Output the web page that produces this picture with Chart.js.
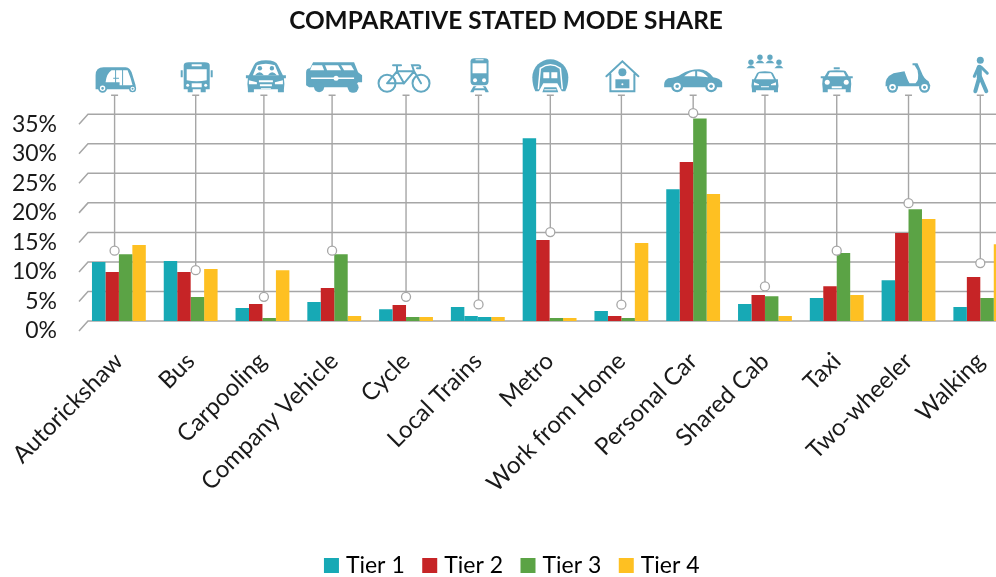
<!DOCTYPE html>
<html>
<head>
<meta charset="utf-8">
<title>Comparative stated mode share</title>
<script src="https://cdn.jsdelivr.net/npm/chart.js@4/dist/chart.umd.min.js"></script>
<style>
  html, body { margin: 0; padding: 0; background: #fff; overflow: hidden; }
  #wrap { width: 996px; height: 577px; overflow: hidden; }
  canvas { display: block; }
</style>
</head>
<body>
<div id="wrap"><canvas id="grafico" width="1022" height="577"></canvas></div>
<script>
// Values (percent)
const modes = ['Autorickshaw', 'Bus', 'Carpooling', 'Company Vehicle', 'Cycle', 'Local Trains', 'Metro',
  'Work from Home', 'Personal Car', 'Shared Cab', 'Taxi', 'Two-wheeler', 'Walking'];
const tierNames = ['Tier 1', 'Tier 2', 'Tier 3', 'Tier 4'];
const tier1 = [10.0, 10.15, 2.2, 3.2, 2.0, 2.37, 30.95, 1.7, 22.3, 2.87, 3.9, 6.9, 2.37];
const tier2 = [8.3, 8.3, 2.87, 5.6, 2.7, 0.85, 13.7, 0.85, 26.9, 4.4, 5.9, 14.9, 7.44];
const tier3 = [11.3, 4.06, 0.5, 11.3, 0.68, 0.68, 0.5, 0.5, 34.3, 4.2, 11.5, 18.9, 3.9];
const tier4 = [12.85, 8.8, 8.6, 0.85, 0.68, 0.68, 0.5, 13.2, 21.5, 0.85, 4.4, 17.25, 13.0];
const overall = [11.9, 8.6, 4.1, 11.9, 4.1, 2.8, 15.05, 2.76, 35.2, 5.86, 11.9, 19.95, 9.8];
// where the overall marker sits along the category axis (0 = first category)
const overallSlot = [-0.06, 1.07, 2.02, 2.97, 4, 5.01, 6.01, 7, 8, 9, 10, 11, 12];
const yTicks = [0, 5, 10, 15, 20, 25, 30, 35];

const colores = ['#17a9b5', '#c62426', '#5ba345', '#fec022'];
const gris = '#a6a6a6';
const azulIcono = '#62a8c2';
const LOCAL_TRAINS = modes.indexOf('Local Trains');

// circle as svg path text
const circ = (x, y, r) => `M${x - r} ${y}a${r} ${r} 0 1 0 ${2 * r} 0a${r} ${r} 0 1 0 ${-2 * r} 0Z`;
const rueda = (x, y, r) => [['f', circ(x, y, r)], ['w', circ(x, y, r * 0.6)], ['f', circ(x, y, r * 0.3)]];
const persona = (x, y) => [['f', circ(x, y - 3, 2.7)], ['f', `M${x - 4.5} ${y + 3}Q${x} ${y - 3} ${x + 4.5} ${y + 3}Z`]];

// Icons: origin is bottom centre, y goes up as negative
const iconos = [
  { dx: 1, art: [
    ['f', 'M-20-4V-17Q-20-25-12-25H10Q15-25 17-17L20-7V-3H-20Z'],
    ['w', 'M-10-10Q-9-19-4-22H12Q15-15 17-7H4V-10Z'],
    ['s', 'M0-22V-8M7-22V-7M-2-14H3'],
    ...rueda(-13, -4, 4.5), ...rueda(17, -3.5, 3.5)] },
  { dx: 1, art: [
    ['f', 'M-13-27Q-13-30-8-30H8Q13-30 13-27V-3H9V0H4V-3H-4V0H-9V-3H-13Z'],
    ['f', 'M-16-22H-14V-15H-16ZM14-22H16V-15H14Z'],
    ['w', 'M-10-23H10V-12Q0-10-10-12Z'], ['w', 'M-5-28H5V-26H-5Z'], ['w', 'M-5-9H5V-5H-5Z'],
    ['w', circ(-9, -7, 1.5)], ['w', circ(9, -7, 1.5)]] },
  { dx: 2, art: [
    ['f', 'M-17-17L-12-27Q-10-32 0-32Q10-32 12-27L17-17H20V-14H18Q19-8 18-3V0H12V-3H-12V0H-18V-3Q-19-8-18-14H-20V-17Z'],
    ['w', 'M-13-17L-9-27Q0-30 9-27L13-17Z'],
    ['f', circ(-6, -24, 2.2)], ['f', circ(6, -24, 2.2)],
    ['f', 'M-11-17Q-6-23-2-17ZM2-17Q6-23 11-17Z'],
    ['w', 'M-17-12L-9-10V-8H-17ZM17-12L9-10V-8H17Z'],
    ['w', 'M-7-12H7V-10H-7ZM-6-8H6V-6H-6ZM-5-4H5V-3H-5Z']] },
  { dx: 2, art: [
    ['f', 'M-28-7V-20Q-28-24-24-24L-21-30H20L24-20L28-17V-10H24L20-5H-25Z'],
    ['f', circ(-15, -5, 5)], ['f', circ(19, -5, 5.5)],
    ['w', 'M-22-27H-12L-10-22H-24ZM-9-27H4L7-22H-7ZM7-27H17L20-22H10Z'],
    ['ws', 'M-23-14H20'], ['w', circ(2, -14, 2.5)]] },
  { dx: -2, art: [
    ['s2', circ(-17, -9, 8.5)], ['s2', circ(17, -9, 8.5)],
    ['s2', 'M-17-9L-7-21H10M-7-21L0-9L10-21L17-9M-17-9H0M-11-27H-3M-7-27V-21M10-21L8-27H14Q17-27 16-24H13']] },
  { dx: 1, art: [
    ['f', 'M-9-31Q-9-34-5-34H5Q9-34 9-31V-11Q9-7 5-7H-5Q-9-7-9-11Z'],
    ['w', 'M-7-29H7V-19H-7Z'], ['w', 'M-4-33H4V-32H-4Z'],
    ['w', circ(-4.5, -12, 2)], ['w', circ(4.5, -12, 2)],
    ['f', 'M-6-6H-3L-5-4H5L3-6H6L9-1V0H6L5-2H-5L-6 0H-9V-1Z']] },
  { dx: 0, art: [
    ['f', 'M-15-1Q-18-7-18-15A18 18 0 0 1 18-15Q18-7 15-1Z'],
    ['ws', 'M-12-3L-10-24Q0-31 10-24L12-3'],
    ['w', 'M-7-20H-1V-14H-7ZM1-20H7V-14H1Z'],
    ['w', 'M-12 0L-7-9H7L12 0Z'],
    ['f', 'M-8 0L-6-5H6L8 0Z'], ['w', 'M-6-3H6V-2H-6Z']] },
  { dx: 1, art: [
    ['s2', 'M-16-16L0-31L16-16M-12-18V-1H12V-18'],
    ['f', circ(0, -20, 4)], ['f', 'M-7-13H7V-4H-7Z'], ['w', circ(0, -8, 1)]] },
  { dx: 0, art: [
    ['f', 'M-29-8Q-29-12-25-14Q-16-15-12-18Q-4-23 6-23Q14-23 20-15Q27-14 29-10V-5H-29Z'],
    ['w', 'M-9-16Q-3-21 2-21V-16ZM4-21Q10-21 15-15L4-16Z'],
    ...rueda(-16, -6, 6), ...rueda(18, -6, 6)] },
  { dx: 0, art: [
    ['f', 'M-11-13L-8-19Q-7-21 0-21Q7-21 8-19L11-13H13V-11Q14-6 13-3V0H9V-2H-9V0H-13V-3Q-14-6-13-11V-13Z'],
    ['w', 'M-9-13L-6-19H6L9-13Z'], ['w', 'M-11-10L-6-8V-7H-11ZM11-10L6-8V-7H11ZM-4-6H4V-5H-4Z'],
    ...persona(-14, -27), ...persona(-5, -32), ...persona(5, -32), ...persona(14, -27)] },
  { dx: 0, art: [
    ['f', 'M-12-16L-9-21Q-8-22 0-22Q8-22 9-21L12-16H16V-14H14Q15-8 14-3V0H9V-3H-9V0H-14V-3Q-15-8-14-14H-16V-16Z'],
    ['f', 'M-3-25H3V-23H-3Z'],
    ['w', 'M-9-16L-7-20H7L9-16Z'], ['w', circ(-9.5, -10, 2.5)], ['w', circ(9.5, -10, 2.5)], ['w', 'M-5-6H5V-4H-5Z']] },
  { dx: -1, art: [
    ['f', 'M-22-6Q-23-15-14-19L-3-21Q0-12 2-9H8Q12-12 10-22L7-27H5V-29H10L14-20Q16-14 21-11L23-6Z'],
    ...rueda(-15, -5, 5.5), ...rueda(17, -5, 5.5)] },
  { dx: 0, art: [
    ['f', circ(0, -32, 3.5)],
    ['s5', 'M-1-25V-15'], ['s3', 'M-2-25L-6-16M1-25L7-19'], ['s4', 'M-1-15L-5-1M0-15L6-1']] }
];

function pintarIcono(ctx, icono) {
  icono.art.forEach(([tipo, d]) => {
    const p = new Path2D(d);
    if (tipo === 'f') { ctx.fillStyle = azulIcono; ctx.fill(p); }
    else if (tipo === 'w') { ctx.fillStyle = '#fff'; ctx.fill(p); }
    else if (tipo === 'ws') { ctx.strokeStyle = '#fff'; ctx.lineWidth = 1.5; ctx.stroke(p); }
    else {
      ctx.strokeStyle = azulIcono;
      ctx.lineCap = 'round';
      ctx.lineWidth = tipo === 's' ? 1 : Number(tipo.slice(1));
      ctx.stroke(p);
    }
  });
}

// Floor-style grid with slanted left ends, leader lines up to the icons
const decorado = {
  id: 'decorado',
  afterLayout(chart) {
    chart.titleBlock.left -= 5; chart.titleBlock.right -= 5;
    chart.legend.left += 3; chart.legend.right += 3;
    chart.legend.top += 10; chart.legend.bottom += 10;
  },
  afterDatasetsUpdate(chart) {
    // markers do not sit exactly on the category centres
    const x = chart.scales.x;
    chart.getDatasetMeta(4).data.forEach((el, i) => {
      el.x = x.getPixelForValue(overallSlot[i]);
    });
  },
  beforeDatasetsDraw(chart) {
    const { ctx, chartArea, scales: { y } } = chart;
    const topeLinea = chartArea.top - 19;
    const baseIcono = chartArea.top - 22;
    ctx.save();
    ctx.strokeStyle = gris;
    ctx.lineWidth = 1.5;
    y.ticks.forEach((t) => {
      const py = y.getPixelForValue(t.value);
      ctx.beginPath();
      ctx.moveTo(79, py + 10);
      ctx.lineTo(88, py);
      ctx.lineTo(chartArea.right, py);
      ctx.stroke();
    });
    const puntos = chart.getDatasetMeta(4).data;
    puntos.forEach((el, i) => {
      ctx.strokeStyle = gris;
      ctx.lineWidth = 1.4;
      ctx.lineCap = 'butt';
      ctx.beginPath();
      ctx.moveTo(el.x, topeLinea);
      ctx.lineTo(el.x, el.y);
      ctx.moveTo(el.x - 3.5, topeLinea);
      ctx.lineTo(el.x + 3.5, topeLinea);
      ctx.stroke();
      ctx.save();
      ctx.translate(el.x + iconos[i].dx, baseIcono);
      pintarIcono(ctx, iconos[i]);
      ctx.restore();
    });
    ctx.restore();
  }
};

const fuente = 'Lato, Carlito, sans-serif';
const series = [tier1, tier2, tier3, tier4];

new Chart(document.getElementById('grafico'), {
  type: 'bar',
  plugins: [decorado],
  data: {
    labels: modes,
    datasets: [
      ...series.map((valores, s) => ({
        label: tierNames[s],
        data: valores,
        // the two small Local Trains bars show in the Tier 1 colour in the original
        backgroundColor: valores.map((_, i) => (i === LOCAL_TRAINS && (s === 1 || s === 2)) ? colores[0] : colores[s]),
        categoryPercentage: 0.75,
        barPercentage: 1,
        order: 2
      })),
      {
        type: 'line',
        label: 'Overall',
        data: overall,
        showLine: false,
        clip: false,
        pointRadius: 4.5,
        pointBackgroundColor: '#fff',
        pointBorderColor: gris,
        pointBorderWidth: 1.3,
        order: 1
      }
    ]
  },
  options: {
    responsive: false,
    animation: false,
    layout: { padding: 0 },
    scales: {
      x: {
        grid: { display: false },
        border: { display: false },
        afterFit: (s) => { s.height = 201; s.paddingLeft = 0; s.paddingRight = 0; },
        ticks: {
          color: '#1a1a1a',
          font: { family: fuente, size: 24 },
          minRotation: 45,
          maxRotation: 45,
          autoSkip: false,
          padding: 18
        }
      },
      y: {
        min: 0,
        max: 35,
        afterFit: (s) => { s.width = 83; },
        afterBuildTicks: (s) => { s.ticks = yTicks.map((v) => ({ value: v })); },
        grid: { display: false },
        border: { display: false },
        ticks: {
          autoSkip: false,
          color: '#1a1a1a',
          font: { family: fuente, size: 23 },
          padding: 18,
          labelOffset: 10,
          callback: (v) => `${v}%`
        }
      }
    },
    plugins: {
      title: {
        display: true,
        text: 'COMPARATIVE STATED MODE SHARE',
        color: '#111',
        font: { family: fuente, size: 24.4, weight: 'bold' },
        padding: { top: 7, bottom: 78 }
      },
      legend: {
        position: 'bottom',
        labels: {
          color: '#1a1a1a',
          font: { family: fuente, size: 23 },
          boxWidth: 6,
          boxHeight: 6,
          padding: 22,
          generateLabels: () => tierNames.map((nombre, s) => ({
            text: nombre,
            fillStyle: colores[s],
            strokeStyle: colores[s],
            lineWidth: 9,
            datasetIndex: s
          }))
        }
      },
      tooltip: { enabled: false }
    }
  }
});
</script>
</body>
</html>
